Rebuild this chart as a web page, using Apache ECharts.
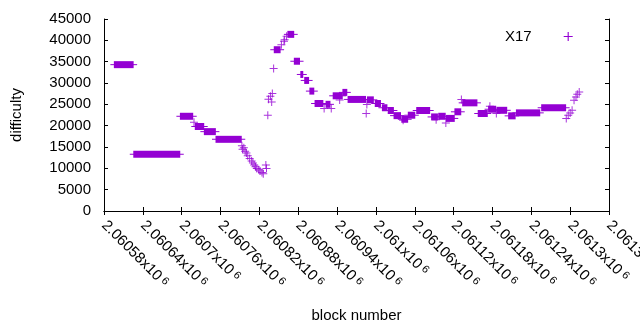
<!DOCTYPE html>
<html>
<head>
<meta charset="utf-8">
<script src="https://cdn.jsdelivr.net/npm/echarts@6/dist/echarts.min.js"></script>
<style>
  html, body { margin: 0; padding: 0; background: #fff; }
  #chart { width: 640px; height: 330px; }
</style>
</head>
<body>
<div id="chart"></div>
<script>
// difficulty per block.
// runs of blocks with the same difficulty: first block, last block, difficulty
const runStart = [2060596, 2060626, 2060698, 2060721, 2060735, 2060753, 2060843, 2060864, 2060874, 2060884,
                  2060890, 2060898, 2060906, 2060923, 2060934, 2060949, 2060957, 2060987, 2060999, 2061010,
                  2061019, 2061028, 2061040, 2061050, 2061063, 2061086, 2061097, 2061109, 2061122, 2061134,
                  2061158, 2061174, 2061187, 2061205, 2061217, 2061256];
const runEnd   = [2060625, 2060697, 2060717, 2060734, 2060752, 2060792, 2060852, 2060873, 2060882, 2060887,
                  2060896, 2060904, 2060918, 2060929, 2060948, 2060955, 2060984, 2060996, 2061007, 2061017,
                  2061027, 2061038, 2061049, 2061060, 2061083, 2061095, 2061107, 2061121, 2061131, 2061156,
                  2061172, 2061185, 2061202, 2061215, 2061253, 2061293];
const runDiff  = [34300, 13300, 22200, 19800, 18600, 16800, 37800, 41400, 35100, 32000,
                  30600, 28100, 25200, 25000, 27000, 27800, 26150, 26050, 25200, 24200,
                  23550, 22350, 21500, 22450, 23550, 22050, 22200, 21700, 23250, 25350,
                  22850, 23850, 23600, 22300, 23000, 24200];

// single blocks (the slides and the odd ones out)
const ptBlock = [2060719, 2060793, 2060794, 2060796, 2060798, 2060800, 2060802, 2060805, 2060808, 2060810,
                 2060812, 2060814, 2060816, 2060819, 2060821, 2060824, 2060826, 2060830, 2060831, 2060833,
                 2060834, 2060837, 2060839, 2060840, 2060842, 2060854, 2060858, 2060859, 2060862, 2060920,
                 2060931, 2060944, 2060985, 2060986, 2061042, 2061093, 2061108, 2061132, 2061176, 2061186,
                 2061294, 2061297, 2061300, 2061303, 2061306, 2061309, 2061311, 2061314];
const ptDiff  = [20800, 15270, 14500, 14810, 14030, 13570, 12940, 12330, 11700, 11230,
                 10760, 10360, 9990, 9660, 9360, 9050, 8720, 10760, 9990, 22450,
                 26200, 26900, 25560, 27530, 33380, 38990, 39760, 40160, 40930, 24020,
                 24020, 26000, 22850, 24960, 21280, 21400, 20650, 26130, 24560, 22850,
                 21680, 22450, 22990, 23620, 25960, 26740, 27370, 27900];

const X_MIN = 2060580, X_MAX = 2061360, X_STEP = 60;
const Y_MIN = 0, Y_MAX = 45000, Y_STEP = 5000;

const COLOR = '#9400d3';
const FONT = 'Liberation Sans';
const PLUS = 'path://M3.5,0H4.5V3.5H8V4.5H4.5V8H3.5V4.5H0V3.5H3.5Z';

const runs = runStart.map((s, i) => [s, runEnd[i], runDiff[i]]);
const points = ptBlock.map((b, i) => [b, ptDiff[i]]);

// gnuplot style: 2.06058x10^6
function blockLabel(v) {
  const m = +(v / 1e6).toFixed(6);
  return '{a|' + m + 'x10}{s| 6}';
}

// a run is drawn as the overlapping '+' marks it is made of
function renderRun(params, api) {
  const a = api.coord([api.value(0), api.value(2)]);
  const b = api.coord([api.value(1), api.value(2)]);
  return {
    type: 'group',
    children: [
      { type: 'rect', shape: { x: a[0] - 0.5, y: a[1] - 3.5, width: b[0] - a[0] + 1, height: 7 },
        style: { fill: COLOR } },
      { type: 'rect', shape: { x: a[0] - 4, y: a[1] - 0.5, width: b[0] - a[0] + 8, height: 1 },
        style: { fill: COLOR } },
    ],
  };
}

const axisLine = { show: true, lineStyle: { color: '#000', width: 1 } };
const tick = { show: true, inside: true, length: 4, lineStyle: { color: '#000' } };

const chart = echarts.init(document.getElementById('chart'), null, { renderer: 'canvas' });
chart.setOption({
  animation: false,
  backgroundColor: '#fff',
  textStyle: { fontFamily: FONT },
  grid: { left: 104, right: 31, top: 19, bottom: 119, containLabel: false, outerBoundsMode: 'none' },
  legend: {
    top: 24,
    left: 500,
    align: 'right',
    itemWidth: 9,
    itemHeight: 9,
    data: [{ name: 'X17', icon: PLUS }],
    textStyle: { fontFamily: FONT, fontSize: 15, color: '#000', padding: [0, 27, 0, 0] },
  },
  xAxis: [
    {
      type: 'value',
      min: X_MIN, max: X_MAX, interval: X_STEP,
      name: 'block number',
      nameLocation: 'middle',
      nameGap: 97,
      nameTextStyle: { fontFamily: FONT, fontSize: 15, color: '#000' },
      axisLine, axisTick: tick,
      splitLine: { show: false },
      axisLabel: {
        rotate: -45,
        margin: 12,
        color: '#000',
        showMaxLabel: true,
        formatter: blockLabel,
        rich: {
          a: { fontFamily: FONT, fontSize: 15, color: '#000' },
          s: { fontFamily: FONT, fontSize: 11, color: '#000', verticalAlign: 'top' },
        },
      },
    },
    {
      type: 'value', position: 'top',
      min: X_MIN, max: X_MAX, interval: X_STEP,
      axisLine, axisTick: tick,
      axisLabel: { show: false }, splitLine: { show: false },
    },
  ],
  yAxis: [
    {
      type: 'value',
      min: Y_MIN, max: Y_MAX, interval: Y_STEP,
      name: 'difficulty',
      nameLocation: 'middle',
      nameGap: 80,
      nameTextStyle: { fontFamily: FONT, fontSize: 15, color: '#000' },
      axisLine, axisTick: tick,
      splitLine: { show: false },
      axisLabel: { margin: 13, fontFamily: FONT, fontSize: 15, color: '#000', formatter: (v) => String(v) },
    },
    {
      type: 'value', position: 'right',
      min: Y_MIN, max: Y_MAX, interval: Y_STEP,
      axisLine, axisTick: tick,
      axisLabel: { show: false }, splitLine: { show: false },
    },
  ],
  series: [
    {
      name: 'X17',
      type: 'custom',
      renderItem: renderRun,
      encode: { x: [0, 1], y: 2 },
      itemStyle: { color: COLOR },
      data: runs,
      clip: true,
    },
    {
      name: 'X17',
      type: 'scatter',
      symbol: PLUS,
      symbolSize: 8,
      itemStyle: { color: COLOR },
      data: points,
    },
  ],
});
</script>
</body>
</html>
